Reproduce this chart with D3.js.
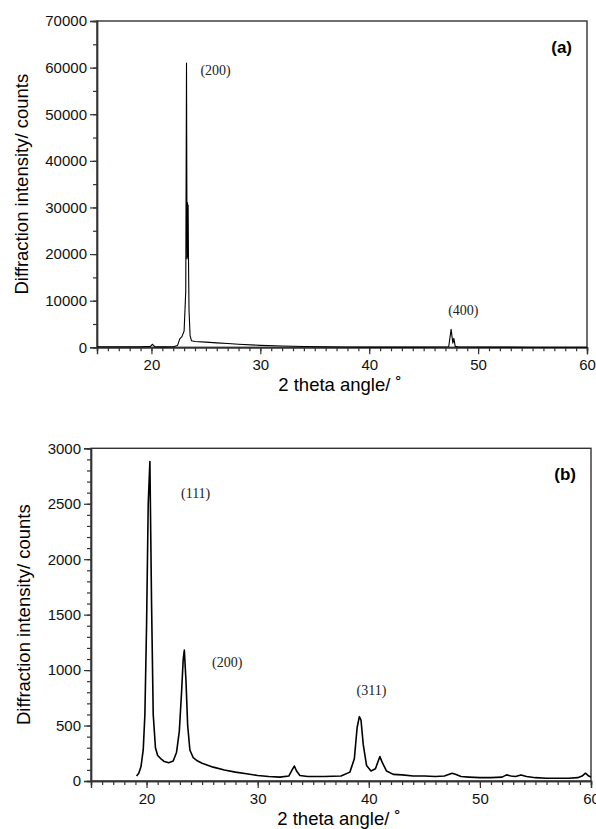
<!DOCTYPE html>
<html>
<head>
<meta charset="utf-8">
<script src="https://cdn.jsdelivr.net/npm/d3@7"></script>
<style>
  body { margin: 0; background: #fff; }
  svg { display: block; }
  .tick text { font-family: "Liberation Sans", Arial, sans-serif; font-size: 15px; fill: #111; }
</style>
</head>
<body>
<svg id="chart" width="596" height="829"></svg>
<script>
// panel (a)
var angleA = [15, 17, 19, 19.9, 20.1, 20.3, 21, 22, 22.4, 22.6, 22.8, 23.0, 23.15, 23.22, 23.27, 23.31, 23.34, 23.37, 23.40, 23.45, 23.55, 23.68, 24, 25, 26, 27, 28, 30, 32, 34, 36, 38, 40, 45, 47.3, 47.52, 47.68, 47.77, 47.9, 48.2, 52, 55, 60];
var countsA = [120, 110, 120, 200, 650, 150, 100, 120, 400, 1800, 2300, 3500, 12000, 61000, 19000, 31000, 19400, 30500, 19500, 8000, 2500, 1400, 1250, 1100, 950, 800, 650, 420, 280, 180, 110, 60, 30, 30, 120, 3860, 900, 1930, 200, 60, 40, 20, 20];

// panel (b)
var angleB = [19.1, 19.3, 19.5, 19.7, 19.85, 20.0, 20.15, 20.3, 20.45, 20.6, 20.8, 21.0, 21.3, 21.6, 22.0, 22.4, 22.7, 22.95, 23.15, 23.3, 23.4, 23.55, 23.7, 23.9, 24.2, 24.6, 25, 26, 27, 28, 29, 30, 31, 32, 32.8, 33.1, 33.3, 33.5, 33.8, 34.5, 36, 37.5, 38.3, 38.7, 38.95, 39.15, 39.3, 39.5, 39.8, 40.2, 40.6, 40.85, 41.0, 41.2, 41.6, 42.2, 43, 44, 45, 46, 46.8, 47.5, 47.8, 48.3, 49, 50, 51, 52.0, 52.4, 52.8, 53.2, 53.7, 54.2, 55, 56, 57, 58, 58.8, 59.2, 59.5, 59.8, 60];
var countsB = [45, 70, 130, 280, 600, 1400, 2500, 2880, 1600, 600, 300, 230, 200, 175, 165, 180, 260, 450, 800, 1100, 1180, 900, 500, 280, 210, 180, 160, 125, 100, 80, 65, 50, 40, 35, 45, 100, 135, 90, 50, 40, 40, 45, 80, 200, 480, 580, 550, 330, 140, 90, 110, 180, 220, 170, 90, 60, 55, 45, 45, 40, 45, 70, 60, 40, 35, 30, 30, 35, 55, 45, 40, 55, 40, 30, 25, 25, 25, 30, 45, 70, 45, 35];

var xTicks = [20, 30, 40, 50, 60];
var yTicksA = [0, 10000, 20000, 30000, 40000, 50000, 60000, 70000];
var yTicksB = [0, 500, 1000, 1500, 2000, 2500, 3000];

var peaksA = [{t: "(200)", x: 24.5, y: 58400}, {t: "(400)", x: 47.25, y: 6930}];
var peaksB = [{t: "(111)", x: 23.1, y: 2550}, {t: "(200)", x: 25.9, y: 1030}, {t: "(311)", x: 38.9, y: 775}];

var svg = d3.select("#chart");

function drawPanel(cfg) {
    var x = d3.scaleLinear().domain([15, 60]).range([cfg.left, cfg.right]);
    var y = d3.scaleLinear().domain([0, cfg.ymax]).range([cfg.bottom, cfg.top]);
    var g = svg.append("g");

    // frame
    g.append("rect")
      .attr("x", cfg.left).attr("y", cfg.top)
      .attr("width", cfg.right - cfg.left).attr("height", cfg.bottom - cfg.top)
      .attr("fill", "none").attr("stroke", "#333").attr("stroke-width", 1.4);

    // minor ticks first, then the labelled ones
    g.append("g").attr("transform", "translate(0," + cfg.bottom + ")")
      .call(d3.axisBottom(x).tickValues(d3.range(15, 61, 1)).tickSize(4).tickFormat(""));
    g.append("g").attr("transform", "translate(0," + cfg.bottom + ")")
      .call(d3.axisBottom(x).tickValues(xTicks).tickSize(7).tickPadding(5).tickFormat(d3.format("d")));
    g.append("g").attr("transform", "translate(" + cfg.left + ",0)")
      .call(d3.axisLeft(y).tickValues(d3.range(0, cfg.ymax + 1, cfg.minor)).tickSize(4).tickFormat(""));
    g.append("g").attr("transform", "translate(" + cfg.left + ",0)")
      .call(d3.axisLeft(y).tickValues(cfg.yticks).tickSize(7).tickPadding(3).tickFormat(d3.format("d")));
    g.selectAll(".domain").attr("stroke", "#333").attr("stroke-width", 1.4);
    g.selectAll(".tick line").attr("stroke", "#333").attr("stroke-width", 1.2);

    var line = d3.line().x(function(d){ return x(d[0]); }).y(function(d){ return y(d[1]); });
    g.append("path")
      .datum(d3.zip(cfg.ax, cfg.cy))
      .attr("d", line)
      .attr("fill", "none").attr("stroke", "#000").attr("stroke-width", cfg.lw)
      .attr("stroke-linejoin", "round");

    g.selectAll(".peak").data(cfg.peaks).enter().append("text")
      .attr("x", function(d){ return x(d.x); }).attr("y", function(d){ return y(d.y); })
      .attr("font-family", "'Liberation Serif', 'Times New Roman', serif").attr("font-size", 14)
      .attr("fill", "#222")
      .text(function(d){ return d.t; });

    g.append("text")
      .attr("x", cfg.right - 15).attr("y", cfg.top + 32)
      .attr("text-anchor", "end")
      .attr("font-family", "'Liberation Sans', Arial, sans-serif").attr("font-size", 17).attr("font-weight", "bold")
      .text(cfg.tag);

    g.append("text")
      .attr("x", (cfg.left + cfg.right) / 2 - 2).attr("y", cfg.xlabY)
      .attr("text-anchor", "middle")
      .attr("font-family", "'Liberation Sans', Arial, sans-serif").attr("font-size", 18.5)
      .text("2 theta angle/ \u02da");

    g.append("text")
      .attr("transform", "translate(" + cfg.ylabX + "," + (cfg.top + cfg.bottom) / 2 + ") rotate(-90)")
      .attr("text-anchor", "middle")
      .attr("font-family", "'Liberation Sans', Arial, sans-serif").attr("font-size", 18.5)
      .text("Diffraction intensity/ counts");
}

drawPanel({left: 97, right: 587, top: 21, bottom: 347.3, ymax: 70000, minor: 5000,
           yticks: yTicksA, ax: angleA, cy: countsA, lw: 1.1, peaks: peaksA, tag: "(a)",
           xlabY: 391, ylabX: 28});
drawPanel({left: 91, right: 591, top: 448.3, bottom: 781, ymax: 3000, minor: 100,
           yticks: yTicksB, ax: angleB, cy: countsB, lw: 1.6, peaks: peaksB, tag: "(b)",
           xlabY: 825, ylabX: 30});
</script>
</body>
</html>
